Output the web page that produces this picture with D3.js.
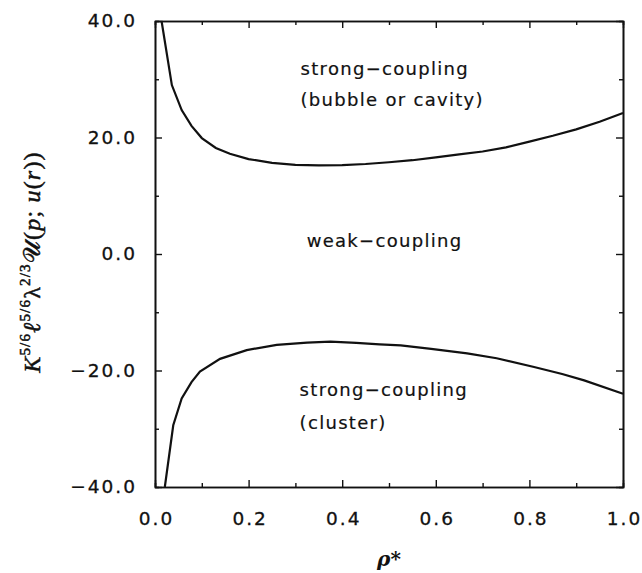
<!DOCTYPE html>
<html>
<head>
<meta charset="utf-8">
<script src="https://cdn.jsdelivr.net/npm/d3@7"></script>
<style>
  html, body { margin: 0; padding: 0; background: #fff; }
  svg { display: block; }
</style>
</head>
<body>
<svg id="chart" width="642" height="573"></svg>
<script>
// ---- data ----
const rhoUpper = [0.014, 0.036, 0.057, 0.078, 0.10, 0.13, 0.16, 0.20, 0.25, 0.30, 0.35, 0.40, 0.45, 0.50, 0.55, 0.60, 0.65, 0.70, 0.75, 0.80, 0.85, 0.90, 0.95, 1.00];
const uUpper   = [40.0, 29.0, 24.7, 22.0, 19.9, 18.2, 17.2, 16.3, 15.65, 15.3, 15.2, 15.25, 15.45, 15.75, 16.1, 16.6, 17.1, 17.6, 18.3, 19.3, 20.3, 21.4, 22.7, 24.2];
const rhoLower = [0.021, 0.039, 0.057, 0.078, 0.096, 0.139, 0.196, 0.26, 0.325, 0.375, 0.43, 0.48, 0.525, 0.59, 0.667, 0.73, 0.81, 0.87, 0.917, 1.00];
const uLower   = [-40.0, -29.4, -24.8, -22.0, -20.2, -18.0, -16.5, -15.6, -15.2, -15.05, -15.25, -15.5, -15.7, -16.3, -17.05, -17.9, -19.4, -20.6, -21.7, -24.0];
const xMajorTicks = [0.0, 0.2, 0.4, 0.6, 0.8, 1.0];
const xMinorTicks = [0.1, 0.3, 0.5, 0.7, 0.9];
const yMajorTicks = [-40, -20, 0, 20, 40];
const yMinorTicks = [-30, -10, 10, 30];
const regionLabels = [
  { text: "strong\u2212coupling", x: 0.311, y: 30.7 },
  { text: "(bubble or cavity)", x: 0.311, y: 25.4 },
  { text: "weak\u2212coupling", x: 0.324, y: 1.2 },
  { text: "strong\u2212coupling", x: 0.309, y: -24.4 },
  { text: "(cluster)", x: 0.309, y: -30.0 }
];

// ---- layout ----
const svg = d3.select("#chart");
const L = 155, R = 623, T = 21, B = 487;
const x = d3.scaleLinear().domain([0, 1]).range([L, R]);
const y = d3.scaleLinear().domain([-40, 40]).range([B, T]);
const fmt = d3.format(".1f");

function styleAxis(g) {
  g.selectAll("path.domain").attr("stroke", "#111").attr("stroke-width", 1.6);
  g.selectAll(".tick line").attr("stroke", "#111").attr("stroke-width", 1.4);
}
function styleLabels(g) {
  g.selectAll(".tick text")
    .style("font-family", "'DejaVu Sans', sans-serif")
    .style("font-size", "18.5px")
    .style("letter-spacing", "2px")
    .attr("fill", "#111")
    .attr("stroke", "#111").attr("stroke-width", 0.3);
}

// minor ticks
svg.append("g").attr("transform", `translate(0,${B})`)
  .call(d3.axisBottom(x).tickValues(xMinorTicks).tickSize(-4).tickFormat(""))
  .call(styleAxis);
svg.append("g").attr("transform", `translate(0,${T})`)
  .call(d3.axisTop(x).tickValues(xMinorTicks).tickSize(-4).tickFormat(""))
  .call(styleAxis);
svg.append("g").attr("transform", `translate(${L},0)`)
  .call(d3.axisLeft(y).tickValues(yMinorTicks).tickSize(-4).tickFormat(""))
  .call(styleAxis);
svg.append("g").attr("transform", `translate(${R},0)`)
  .call(d3.axisRight(y).tickValues(yMinorTicks).tickSize(-4).tickFormat(""))
  .call(styleAxis);

// major ticks
const xb = svg.append("g").attr("transform", `translate(0,${B})`)
  .call(d3.axisBottom(x).tickValues(xMajorTicks).tickSize(-7).tickSizeOuter(0).tickPadding(25).tickFormat(fmt))
  .call(styleAxis).call(styleLabels);
xb.selectAll(".tick text").attr("dx", "1px");
svg.append("g").attr("transform", `translate(0,${T})`)
  .call(d3.axisTop(x).tickValues(xMajorTicks).tickSize(-7).tickSizeOuter(0).tickFormat(""))
  .call(styleAxis);
const yl = svg.append("g").attr("transform", `translate(${L},0)`)
  .call(d3.axisLeft(y).tickValues(yMajorTicks).tickSize(-7).tickSizeOuter(0).tickPadding(20).tickFormat(fmt))
  .call(styleAxis).call(styleLabels);
yl.selectAll(".tick text").attr("dx", "2px");
svg.append("g").attr("transform", `translate(${R},0)`)
  .call(d3.axisRight(y).tickValues(yMajorTicks).tickSize(-7).tickSizeOuter(0).tickFormat(""))
  .call(styleAxis);

// curves
const line = d3.line().x(d => x(d[0])).y(d => y(d[1])).curve(d3.curveLinear);
svg.append("path").datum(d3.zip(rhoUpper, uUpper))
  .attr("d", line).attr("fill", "none").attr("stroke", "#111").attr("stroke-width", 2.2);
svg.append("path").datum(d3.zip(rhoLower, uLower))
  .attr("d", line).attr("fill", "none").attr("stroke", "#111").attr("stroke-width", 2.2);

// region labels
svg.selectAll("text.region").data(regionLabels).enter().append("text")
  .attr("class", "region")
  .attr("x", d => x(d.x)).attr("y", d => y(d.y))
  .style("font-family", "'DejaVu Sans', sans-serif")
  .style("font-size", "18px")
  .style("letter-spacing", "1.3px")
  .attr("fill", "#111")
  .attr("stroke", "#111").attr("stroke-width", 0.2)
  .text(d => d.text);

// x axis title
svg.append("text")
  .attr("x", (L + R) / 2).attr("y", 566)
  .attr("text-anchor", "middle")
  .attr("font-family", "DejaVu Serif, serif").attr("font-style", "italic").attr("font-weight", "bold")
  .attr("font-size", 20).attr("fill", "#111")
  .text("\u03C1*");

// y axis title
const yt = svg.append("text")
  .attr("transform", `translate(40,${(T + B) / 2 + 8}) rotate(-90)`)
  .attr("text-anchor", "middle")
  .attr("font-family", "Liberation Serif, serif")
  .attr("font-size", 24).attr("fill", "#111")
  .attr("stroke", "#111").attr("stroke-width", 0.5)
  .style("letter-spacing", "1.2px");
const parts = [
  ["K", false, true], ["5/6", true], ["\u2113", false, true], ["5/6", true],
  ["\u03BB", false, false], ["2/3", true], ["\uD835\uDCB0", false, false], ["(", false, false],
  ["p", false, true], ["; ", false, false], ["u", false, true], ["(", false, false], ["r", false, true], ["))", false, false]
];
let raised = false;
parts.forEach(p => {
  const ts = yt.append("tspan").text(p[0]);
  if (p[1]) { ts.attr("font-size", 15).attr("dy", -10); raised = true; }
  else { if (raised) { ts.attr("dy", 10); raised = false; } }
  if (p[2]) ts.attr("font-style", "italic");
});
</script>
</body>
</html>
